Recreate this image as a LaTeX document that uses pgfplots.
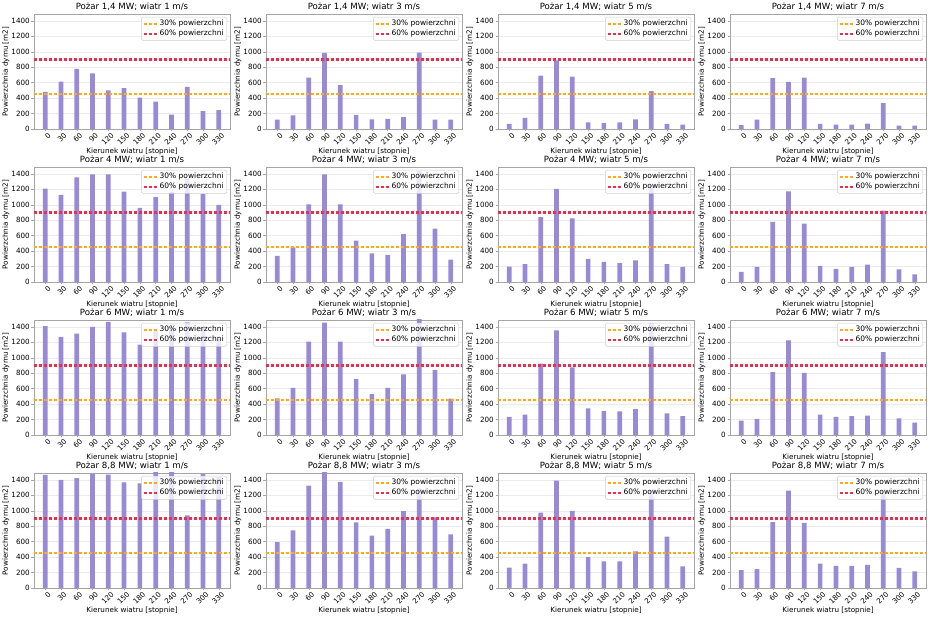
\documentclass[border=0pt]{standalone}
\usepackage{fontspec}
\setmainfont{DejaVu Sans}
\usepackage{pgfplots}
\pgfplotsset{compat=1.18}
\usepgfplotslibrary{groupplots}
\usetikzlibrary{calc}
\definecolor{barc}{RGB}{152,138,212}
\definecolor{cthirty}{RGB}{255,170,20}
\definecolor{csixty}{RGB}{235,45,80}
\definecolor{spine}{RGB}{165,165,165}
\definecolor{gridc}{RGB}{234,234,234}
\definecolor{legfill}{RGB}{255,255,255}
\definecolor{legdraw}{RGB}{205,205,205}
\newcommand{\fs}{\fontsize{7.2}{8.6}\selectfont}
\tikzset{
  l30/.style={draw=cthirty, line width=1.8pt, dash pattern=on 3.4pt off 1.6pt},
  l60/.style={draw=csixty, line width=2.1pt, dash pattern=on 3.4pt off 1.6pt},
}
\newcommand{\reflines}{%
  \addplot[l30] coordinates {(-0.715,450) (11.715,450)};
  \addlegendentry{30\% powierzchni}
  \addplot[l60] coordinates {(-0.715,900) (11.715,900)};
  \addlegendentry{60\% powierzchni}
}
\pgfplotsset{
  panel/.style={
    width=196pt, height=115pt, scale only axis,
    xmin=-0.715, xmax=11.715, ymin=0, ymax=1490,
    axis line style={spine},
    xtick={0,1,2,3,4,5,6,7,8,9,10,11},
    xticklabels={0,30,60,90,120,150,180,210,240,270,300,330},
    ytick={0,200,400,600,800,1000,1200,1400},
    /pgf/number format/assume math mode=true,
    /pgf/number format/1000 sep={},
    ymajorgrids, grid style={gridc, line width=0.5pt},
    tick style={spine, line width=0.4pt}, major tick length=2.5pt, tick align=outside,
    tick pos=left,
    ticklabel style={font=\fs},
    xticklabel style={rotate=45, anchor=north east, inner sep=1pt, xshift=2.2pt, yshift=-1pt},
    yticklabel style={inner sep=1.5pt},
    xlabel={Kierunek wiatru [stopnie]}, ylabel={Powierzchnia dymu [m2]},
    label style={font=\fs},
    xlabel style={yshift=3pt},
    ylabel style={yshift=-3pt},
    title style={font=\fontsize{8.6}{10}\selectfont, yshift=-6.5pt},
    legend style={at={(0.985,0.975)}, anchor=north east, font=\fontsize{7.5}{9}\selectfont, draw=legdraw,
      rounded corners=1.5pt, fill=legfill, fill opacity=0.8, text opacity=1,
      inner sep=1.2pt, row sep=-1.5pt, cells={anchor=west}},
    legend image code/.code={\draw[#1] (0pt,0pt) -- (13pt,0pt);},
  },
  bars/.style={ybar, bar width=0.3, fill=barc, draw=none, forget plot},
}
\begin{document}
\begin{tikzpicture}
\begin{groupplot}[group style={group size=4 by 4, horizontal sep=36pt, vertical sep=38pt}, panel]
% ---------------- 1.4 MW
\nextgroupplot[title={Pożar 1,4 MW; wiatr 1 m/s}]
\addplot[bars] coordinates {(0,480) (1,615) (2,780) (3,720) (4,500) (5,530) (6,405) (7,355) (8,185) (9,545) (10,230) (11,245)};
\reflines
\nextgroupplot[title={Pożar 1,4 MW; wiatr 3 m/s}]
\addplot[bars] coordinates {(0,120) (1,175) (2,665) (3,985) (4,570) (5,180) (6,125) (7,130) (8,155) (9,990) (10,120) (11,120)};
\reflines
\nextgroupplot[title={Pożar 1,4 MW; wiatr 5 m/s}]
\addplot[bars] coordinates {(0,65) (1,145) (2,690) (3,890) (4,680) (5,85) (6,75) (7,85) (8,125) (9,490) (10,65) (11,55)};
\reflines
\nextgroupplot[title={Pożar 1,4 MW; wiatr 7 m/s}]
\addplot[bars] coordinates {(0,50) (1,120) (2,660) (3,610) (4,665) (5,65) (6,55) (7,55) (8,70) (9,335) (10,45) (11,45)};
\reflines
% ---------------- 4 MW
\nextgroupplot[title={Pożar 4 MW; wiatr 1 m/s}]
\addplot[bars] coordinates {(0,1210) (1,1130) (2,1355) (3,1395) (4,1395) (5,1170) (6,960) (7,1100) (8,1170) (9,1340) (10,1140) (11,1000)};
\reflines
\nextgroupplot[title={Pożar 4 MW; wiatr 3 m/s}]
\addplot[bars] coordinates {(0,340) (1,450) (2,1005) (3,1395) (4,1005) (5,535) (6,370) (7,350) (8,620) (9,1440) (10,690) (11,290)};
\reflines
\nextgroupplot[title={Pożar 4 MW; wiatr 5 m/s}]
\addplot[bars] coordinates {(0,200) (1,230) (2,840) (3,1205) (4,825) (5,300) (6,260) (7,245) (8,280) (9,1260) (10,230) (11,195)};
\reflines
\nextgroupplot[title={Pożar 4 MW; wiatr 7 m/s}]
\addplot[bars] coordinates {(0,130) (1,195) (2,780) (3,1175) (4,755) (5,210) (6,170) (7,195) (8,225) (9,925) (10,165) (11,100)};
\reflines
% ---------------- 6 MW
\nextgroupplot[title={Pożar 6 MW; wiatr 1 m/s}]
\addplot[bars] coordinates {(0,1410) (1,1270) (2,1315) (3,1400) (4,1465) (5,1330) (6,1170) (7,1370) (8,1380) (9,1460) (10,1390) (11,1240)};
\reflines
\nextgroupplot[title={Pożar 6 MW; wiatr 3 m/s}]
\addplot[bars] coordinates {(0,475) (1,610) (2,1210) (3,1455) (4,1210) (5,725) (6,530) (7,610) (8,785) (9,1520) (10,845) (11,470)};
\reflines
\nextgroupplot[title={Pożar 6 MW; wiatr 5 m/s}]
\addplot[bars] coordinates {(0,235) (1,265) (2,925) (3,1355) (4,875) (5,345) (6,310) (7,305) (8,335) (9,1450) (10,280) (11,245)};
\reflines
\nextgroupplot[title={Pożar 6 MW; wiatr 7 m/s}]
\addplot[bars] coordinates {(0,185) (1,210) (2,815) (3,1225) (4,805) (5,265) (6,235) (7,245) (8,250) (9,1075) (10,215) (11,160)};
\reflines
% ---------------- 8.8 MW
\nextgroupplot[title={Pożar 8,8 MW; wiatr 1 m/s}]
\addplot[bars] coordinates {(0,1465) (1,1400) (2,1425) (3,1475) (4,1470) (5,1370) (6,1355) (7,1520) (8,1520) (9,940) (10,1480) (11,1440)};
\reflines
\nextgroupplot[title={Pożar 8,8 MW; wiatr 3 m/s}]
\addplot[bars] coordinates {(0,595) (1,745) (2,1325) (3,1520) (4,1375) (5,850) (6,680) (7,765) (8,995) (9,1290) (10,915) (11,695)};
\reflines
\nextgroupplot[title={Pożar 8,8 MW; wiatr 5 m/s}]
\addplot[bars] coordinates {(0,265) (1,315) (2,975) (3,1390) (4,1000) (5,400) (6,345) (7,345) (8,475) (9,1270) (10,665) (11,280)};
\reflines
\nextgroupplot[title={Pożar 8,8 MW; wiatr 7 m/s}]
\addplot[bars] coordinates {(0,230) (1,245) (2,855) (3,1260) (4,845) (5,315) (6,285) (7,285) (8,300) (9,1260) (10,260) (11,215)};
\reflines
\end{groupplot}
\pgfresetboundingbox
\path ($(group c1r1.north west)+(-34pt,14pt)$) rectangle ++(932pt,-617pt);
\end{tikzpicture}
\end{document}
